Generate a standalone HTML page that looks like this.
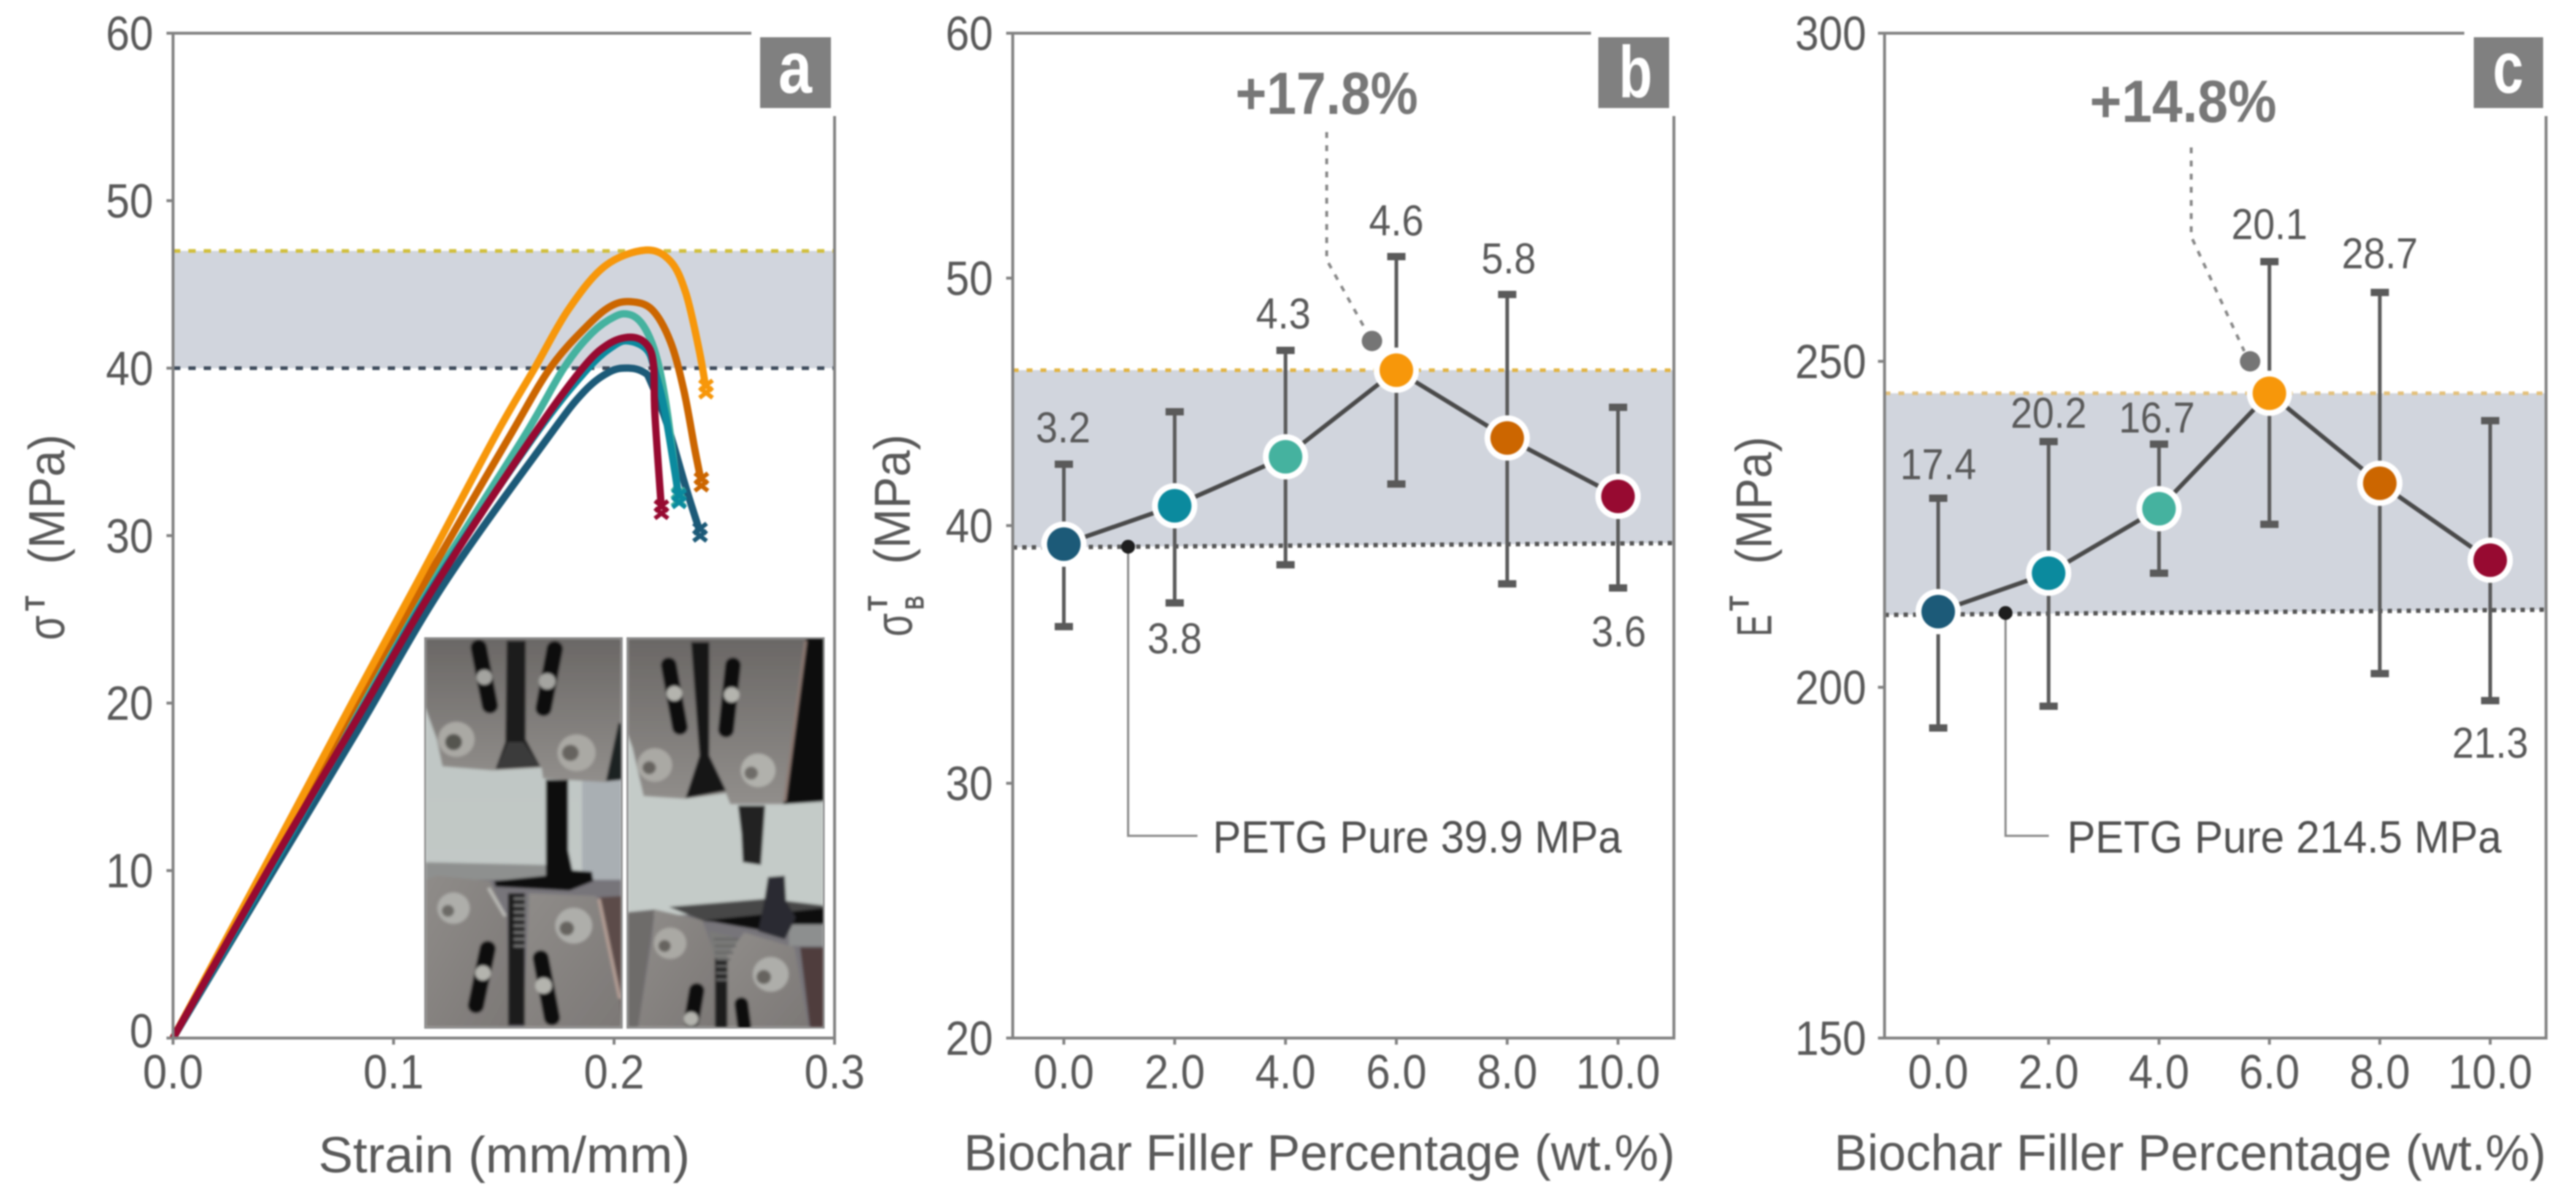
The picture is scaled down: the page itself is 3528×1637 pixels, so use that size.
<!DOCTYPE html>
<html lang="en">
<head>
<meta charset="utf-8">
<title>PETG biochar tensile results</title>
<style>
html,body{margin:0;padding:0;background:#fff;}
#figure{display:block;width:3528px;height:1637px;filter:blur(1px);font-family:"Liberation Sans",sans-serif;}
.frame{stroke:#828282;stroke-width:4;fill:none;}
.title{fill:#595959;font-size:70px;}
</style>
</head>
<body>
<svg id="figure" xmlns="http://www.w3.org/2000/svg" width="3528" height="1637" viewBox="0 0 3528 1637">
<defs>
<linearGradient id="plateGrad" x1="0" y1="0" x2="0" y2="1"><stop offset="0" stop-color="#6a6765"/><stop offset="1" stop-color="#918e8b"/></linearGradient>
<linearGradient id="plateGrad2" x1="0" y1="0" x2="1" y2="1"><stop offset="0" stop-color="#8f8c89"/><stop offset="1" stop-color="#7c7876"/></linearGradient>
<linearGradient id="bgGradLeft" x1="0" y1="0" x2="0" y2="1"><stop offset="0" stop-color="#bfc6c4"/><stop offset="1" stop-color="#c3c9c7"/></linearGradient>
<clipPath id="photoLeftClip"><rect x="58" y="65" width="704" height="1443"/></clipPath>
<clipPath id="photoRightClip"><rect x="782" y="65" width="703" height="1443"/></clipPath>
<filter id="photoBlur" x="-5%" y="-5%" width="110%" height="110%"><feGaussianBlur stdDeviation="5"/></filter>
</defs>
<rect width="3528" height="1637" fill="#fff"/>

<g id="panelA"></g>
<g id="panelB"></g>
<g id="panelC"></g>

<g transform="translate(560 850) scale(.3827 .37)">
  <g clip-path="url(#photoLeftClip)">
    <g filter="url(#photoBlur)">
    <rect x="58" y="65" width="704" height="1443" fill="url(#bgGradLeft)"/>
    <rect x="620" y="590" width="142" height="380" fill="#a9afb3"/>
    <polygon points="58,895 490,905 490,965 58,965" fill="#8e908f"/>
    <polygon points="580,975 762,960 762,1030 580,1030" fill="#8d8c8b"/>
    <rect x="58" y="960" width="704" height="548" fill="#77757a"/>
    <polygon points="58,65 762,65 762,590 700,598 480,585 475,545 300,555 120,540 100,440 58,320" fill="url(#plateGrad)"/>
    <polygon points="750,380 762,380 762,590 705,595" fill="#1d2024"/>
    <line x1="250" y1="100" x2="290" y2="315" stroke="#0c0c0c" stroke-width="58" stroke-linecap="round"/>
    <line x1="522" y1="105" x2="482" y2="325" stroke="#0c0c0c" stroke-width="58" stroke-linecap="round"/>
    <polygon points="350,75 418,75 418,440 470,540 310,550 345,450" fill="#1a1a1a"/>
    <polygon points="355,450 410,450 465,535 315,545" fill="#3b3b3b"/>
    <polygon points="490,590 570,590 570,850 585,925 655,930 660,965 575,1000 310,985 305,965 490,945" fill="#111"/>
    <polygon points="100,945 290,965 350,1100 360,1508 58,1508 58,960" fill="url(#plateGrad2)"/>
    <polygon points="430,1010 670,1020 762,1380 762,1508 410,1508" fill="url(#plateGrad2)"/>
    <polygon points="680,1025 762,1020 762,1508 755,1400" fill="#5b4c4a"/>
    <line x1="680" y1="1030" x2="755" y2="1400" stroke="#b39d94" stroke-width="12"/>
    <rect x="355" y="1010" width="60" height="490" fill="#1c1c1c"/>
    <path d="M375 1030H430M375 1055H430M375 1080H425M375 1105H420M375 1130H420M375 1155H420M375 1180H415M375 1205H415" stroke="#777" stroke-width="9"/>
    <line x1="285" y1="990" x2="345" y2="1095" stroke="#b9b9b5" stroke-width="12"/>
    <line x1="282" y1="1215" x2="240" y2="1425" stroke="#0c0c0c" stroke-width="58" stroke-linecap="round"/>
    <line x1="472" y1="1250" x2="512" y2="1470" stroke="#0c0c0c" stroke-width="58" stroke-linecap="round"/>
    <circle cx="170" cy="440" r="65" fill="#aaa9a4"/><circle cx="160" cy="450" r="30" fill="#55544f"/>
    <circle cx="600" cy="490" r="68" fill="#aaa9a4"/><circle cx="578" cy="490" r="30" fill="#66645f"/>
    <circle cx="270" cy="210" r="28" fill="#a4a4a0"/><circle cx="495" cy="225" r="30" fill="#a4a4a0"/>
    <circle cx="160" cy="1065" r="58" fill="#aeaeaa"/><circle cx="140" cy="1075" r="22" fill="#6c6b66"/>
    <circle cx="590" cy="1130" r="66" fill="#aeaeaa"/><circle cx="565" cy="1140" r="26" fill="#66645f"/>
    <circle cx="265" cy="1305" r="28" fill="#b4b4ae"/><circle cx="482" cy="1352" r="30" fill="#b4b4ae"/>
    </g>
  </g>
  <g clip-path="url(#photoRightClip)">
    <g filter="url(#photoBlur)">
    <rect x="782" y="65" width="703" height="1443" fill="#c4cbc8"/>
    <rect x="782" y="1090" width="703" height="418" fill="#77757a"/>
    <polygon points="782,65 1420,65 1350,680 1150,680 1135,640 990,660 840,650 800,470 782,420" fill="url(#plateGrad)"/>
    <polygon points="1420,65 1485,65 1485,670 1340,680" fill="#0c0c0c"/>
    <line x1="1420" y1="75" x2="1345" y2="670" stroke="#8e7a73" stroke-width="10"/>
    <line x1="930" y1="165" x2="970" y2="395" stroke="#0c0c0c" stroke-width="56" stroke-linecap="round"/>
    <line x1="1160" y1="165" x2="1135" y2="405" stroke="#0c0c0c" stroke-width="56" stroke-linecap="round"/>
    <polygon points="1010,80 1075,80 1075,500 1135,630 990,658 1040,500" fill="#161616"/>
    <circle cx="950" cy="270" r="28" fill="#b4b4ae"/><circle cx="1155" cy="275" r="28" fill="#b4b4ae"/>
    <circle cx="880" cy="535" r="62" fill="#aaa9a4"/><circle cx="860" cy="545" r="24" fill="#66645f"/>
    <circle cx="1250" cy="555" r="62" fill="#b1b1ac"/><circle cx="1225" cy="565" r="24" fill="#6e6c67"/>
    <polygon points="1178,685 1275,685 1260,905 1195,895 1190,790" fill="#222"/>
    <polygon points="930,1060 1285,1030 1485,1055 1485,1125 1380,1125 1060,1115" fill="#474747"/>
    <polygon points="1060,1110 1485,1065 1485,1125 1250,1145" fill="#0f0f0f"/>
    <rect x="1360" y="1125" width="125" height="80" fill="#8d8f8f"/>
    <polygon points="1285,950 1345,945 1350,1040 1385,1100 1345,1180 1250,1150 1270,1050" fill="#2a2c30"/>
    <polygon points="782,1080 880,1070 820,1508 782,1508" fill="#6e6c6b"/>
    <polygon points="880,1070 1050,1110 1100,1250 1100,1508 820,1508 870,1180" fill="url(#plateGrad2)"/>
    <polygon points="1075,1150 1195,1180 1150,1260 1095,1260" fill="#7a7a78"/>
    <polygon points="1200,1155 1380,1210 1430,1508 1140,1508 1140,1240" fill="url(#plateGrad2)"/>
    <polygon points="1400,1210 1485,1210 1485,1508 1435,1508" fill="#4f3e3c"/>
    <rect x="1095" y="1250" width="45" height="258" fill="#1a1a1a"/>
    <path d="M1090 1180H1180M1095 1205H1170M1095 1230H1160M1100 1255H1150M1100 1280H1140M1100 1305H1140M1100 1330H1140" stroke="#666" stroke-width="9"/>
    <line x1="1030" y1="1370" x2="1012" y2="1480" stroke="#0c0c0c" stroke-width="55" stroke-linecap="round"/>
    <line x1="1190" y1="1420" x2="1200" y2="1500" stroke="#0c0c0c" stroke-width="50" stroke-linecap="round"/>
    <circle cx="1010" cy="1475" r="26" fill="#b4b4ae"/>
    <circle cx="935" cy="1195" r="58" fill="#aaa9a4"/><circle cx="915" cy="1205" r="22" fill="#66645f"/>
    <circle cx="1295" cy="1310" r="64" fill="#aeaeaa"/><circle cx="1270" cy="1320" r="26" fill="#66645f"/>
    </g>
  </g>
  <rect x="58" y="65" width="704" height="1443" fill="none" stroke="#8a8a8a" stroke-width="6"/>
  <rect x="782" y="65" width="703" height="1443" fill="none" stroke="#8a8a8a" stroke-width="6"/>
</g>

<!-- Panel A static frame & labels -->
<path class="frame" d="M1029 45.5H237V1422H1143V159"/>
<rect x="1041" y="51" width="97" height="97" fill="#808080"/>
<text x="1089" y="127" text-anchor="middle" font-size="100" font-weight="bold" fill="#fff" textLength="46" lengthAdjust="spacingAndGlyphs">a</text>
<text class="title" x="436" y="1606" textLength="509" lengthAdjust="spacingAndGlyphs">Strain (mm/mm)</text>
<g fill="#595959">
  <text transform="translate(88 877) rotate(-90)" font-size="72" textLength="34" lengthAdjust="spacingAndGlyphs">σ</text>
  <text transform="translate(61 837) rotate(-90)" font-size="38" font-weight="bold" textLength="21" lengthAdjust="spacingAndGlyphs">T</text>
  <text transform="translate(88 773) rotate(-90)" font-size="70" textLength="178" lengthAdjust="spacingAndGlyphs">(MPa)</text>
</g>

<!-- Panel B static frame & labels -->
<path class="frame" d="M2179 45.5H1387V1422H2292.5V159"/>
<rect x="2189" y="51" width="97" height="97" fill="#808080"/>
<text x="2240" y="133" text-anchor="middle" font-size="100" font-weight="bold" fill="#fff" textLength="46" lengthAdjust="spacingAndGlyphs">b</text>
<text class="title" x="1320" y="1603" textLength="974" lengthAdjust="spacingAndGlyphs">Biochar Filler Percentage (wt.%)</text>
<g fill="#595959">
  <text transform="translate(1249 872) rotate(-90)" font-size="72" textLength="32" lengthAdjust="spacingAndGlyphs">σ</text>
  <text transform="translate(1215 837) rotate(-90)" font-size="38" font-weight="bold" textLength="21" lengthAdjust="spacingAndGlyphs">T</text>
  <text transform="translate(1265 835) rotate(-90)" font-size="36" font-weight="bold" textLength="19" lengthAdjust="spacingAndGlyphs">B</text>
  <text transform="translate(1246 773) rotate(-90)" font-size="70" textLength="178" lengthAdjust="spacingAndGlyphs">(MPa)</text>
</g>
<text x="1692" y="156" font-size="82" font-weight="bold" fill="#777" textLength="250" lengthAdjust="spacingAndGlyphs">+17.8%</text>
<text x="1661" y="1168" font-size="62" fill="#505050" textLength="560" lengthAdjust="spacingAndGlyphs">PETG Pure 39.9 MPa</text>

<!-- Panel C static frame & labels -->
<path class="frame" d="M3375 45.5H2581V1422H3487V159"/>
<rect x="3388" y="51" width="95" height="97" fill="#808080"/>
<text x="3435" y="127" text-anchor="middle" font-size="100" font-weight="bold" fill="#fff" textLength="42" lengthAdjust="spacingAndGlyphs">c</text>
<text class="title" x="2512" y="1603" textLength="975" lengthAdjust="spacingAndGlyphs">Biochar Filler Percentage (wt.%)</text>
<g fill="#595959">
  <text transform="translate(2426 872) rotate(-90)" font-size="68" textLength="30" lengthAdjust="spacingAndGlyphs">E</text>
  <text transform="translate(2395 837) rotate(-90)" font-size="38" font-weight="bold" textLength="21" lengthAdjust="spacingAndGlyphs">T</text>
  <text transform="translate(2426 773) rotate(-90)" font-size="70" textLength="175" lengthAdjust="spacingAndGlyphs">(MPa)</text>
</g>
<text x="2862" y="167" font-size="82" font-weight="bold" fill="#777" textLength="256" lengthAdjust="spacingAndGlyphs">+14.8%</text>
<text x="2831" y="1168" font-size="62" fill="#505050" textLength="595" lengthAdjust="spacingAndGlyphs">PETG Pure 214.5 MPa</text>

<script>
// ---------- Panel a data: stress-strain curves by biochar loading ----------
const strain0 = [0, .0455, .0838, .1228, .1699, .1864, .1983, .2071, .2136, .2166, .2242, .2325, .239];
const stress0 = [0, 10, 18.4, 27.1, 35.83, 38.6, 39.8, 40, 39.75, 39.2, 36.6, 32.9, 30.2];
const strain2 = [0, .044, .086, .1185, .1632, .1876, .2006, .2076, .2149, .2182, .2232, .2295];
const stress2 = [0, 10, 19.7, 27.1, 35.83, 39.9, 41.4, 41.6, 41.1, 40, 37.3, 32.2];
const strain4 = [0, .0425, .085, .1169, .1588, .1772, .19, .2006, .2071, .2124, .2172, .2207, .2242, .2292];
const stress4 = [0, 10, 20, 27.1, 35.83, 40, 42.1, 43.1, 43.2, 42.7, 41.5, 39.9, 37.3, 32.3];
const strain6 = [0, .0407, .0805, .1103, .1456, .164, .1793, .1959, .2142, .2255, .2325, .2384, .2417];
const stress6 = [0, 10, 19.85, 27.1, 35.83, 40, 43.5, 46.1, 47.05, 46.4, 44.5, 41.2, 38.75];
const strain8 = [0, .042, .082, .1136, .1522, .171, .1876, .1985, .2075, .2172, .2255, .2316, .2367, .2396];
const stress8 = [0, 10, 19.8, 27.1, 35.83, 40, 42.5, 43.7, 43.97, 43.5, 41.6, 38.7, 35.1, 33.2];
const strain10 = [0, .043, .0845, .1192, .1626, .1851, .197, .2076, .2149, .2179, .2185, .2215];
const stress10 = [0, 10, 19.3, 27.1, 35.83, 39.9, 41.4, 41.85, 41.4, 40.2, 37.3, 31.55];
const bandA = [40, 47];
const yTicksA = [0, 10, 20, 30, 40, 50, 60];
const xTicksA = ['0.0', '0.1', '0.2', '0.3'];

// ---------- Panels b & c data ----------
const fillerLevels = [0, 2, 4, 6, 8, 10];
const fillerTickLabels = ['0.0', '2.0', '4.0', '6.0', '8.0', '10.0'];
const meanB = [39.28, 40.8, 42.78, 46.28, 43.54, 41.18];
const errorB = [3.2, 3.8, 4.3, 4.6, 5.8, 3.6];
const printedB = ['3.2', '3.8', '4.3', '4.6', '5.8', '3.6'];
const yTicksB = [20, 30, 40, 50, 60];
const pureLineB = [39.15, 39.32];
const pureValueB = 39.18;
const calloutB = 47.46;
const meanC = [211.6, 217.5, 227.4, 245.1, 231.3, 219.5];
const errorC = [17.4, 20.2, 9.9, 20.1, 29.2, 21.4];
const printedC = ['17.4', '20.2', '16.7', '20.1', '28.7', '21.3'];
const yTicksC = [150, 200, 250, 300];
const pureLineC = [211.1, 211.9];
const pureValueC = 211.4;
const calloutC = 250;

// ---------- Helpers ----------
const NS = 'http://www.w3.org/2000/svg';
const GREY_TEXT = '#595959';
const GREY_AXIS = '#828282';
const seriesColors = ['#1c5a78', '#0b8a9e', '#45b29f', '#f7970a', '#cc6600', '#970a31'];

function el(tag, attrs, parent) {
  const node = document.createElementNS(NS, tag);
  for (const key in attrs) node.setAttribute(key, attrs[key]);
  parent.appendChild(node);
  return node;
}
function polyScale(domain, range) {
  return function (v) {
    let i = 0;
    while (i < domain.length - 2 && v > domain[i + 1]) i++;
    return range[i] + (v - domain[i]) * (range[i + 1] - range[i]) / (domain[i + 1] - domain[i]);
  };
}
function numLen(str, size) {
  let w = 0;
  for (const ch of str) w += ch === '.' ? 0.29 : 0.524;
  return w * size;
}
function drawNumber(parent, x, y, str, size, anchor) {
  const t = el('text', {x: x, y: y, 'font-size': size * 1.06, fill: GREY_TEXT, 'text-anchor': anchor, textLength: numLen(str, size), lengthAdjust: 'spacingAndGlyphs'}, parent);
  t.textContent = str;
  return t;
}
function smoothPath(pts) {
  let d = 'M' + pts[0][0] + ' ' + pts[0][1];
  for (let i = 0; i < pts.length - 1; i++) {
    const p0 = pts[Math.max(0, i - 1)], p1 = pts[i], p2 = pts[i + 1], p3 = pts[Math.min(pts.length - 1, i + 2)];
    const c1x = p1[0] + (p2[0] - p0[0]) / 6, c1y = p1[1] + (p2[1] - p0[1]) / 6;
    const c2x = p2[0] - (p3[0] - p1[0]) / 6, c2y = p2[1] - (p3[1] - p1[1]) / 6;
    d += 'C' + c1x + ' ' + c1y + ' ' + c2x + ' ' + c2y + ' ' + p2[0] + ' ' + p2[1];
  }
  return d;
}
function drawYAxis(parent, ticks, yScale, axisX, labelRight, zeroNudge) {
  ticks.forEach(function (v) {
    const y = yScale(v);
    const tick = el('line', {x1: axisX - 9, x2: axisX, y1: y, y2: y, stroke: GREY_AXIS, 'stroke-width': 4}, parent);
    
    
    const label = drawNumber(parent, labelRight, y + (v === 0 && zeroNudge ? 13 : 23), String(v), 62, 'end');
    
    
  });
}
function drawXTick(parent, x, str) {
  const tick = el('line', {x1: x, x2: x, y1: 1422, y2: 1431, stroke: GREY_AXIS, 'stroke-width': 4}, parent);
  
  
  const label = drawNumber(parent, x, 1491, str, 62, 'middle');
  
  
}

// ---------- Panel a ----------
(function () {
  const g = document.getElementById('panelA');
  const xA = polyScale([0, 0.3], [237, 1143]);
  const yA = polyScale([0, 60], [1422, 45.5]);
  const band = el('rect', {x: xA(0), width: xA(0.3) - xA(0), y: yA(bandA[1]), height: yA(bandA[0]) - yA(bandA[1]), fill: '#d1d5dd'}, g);
  
  
  const topLine = el('line', {x1: xA(0), x2: xA(0.3), y1: yA(bandA[1]), y2: yA(bandA[1]), stroke: '#d2bf3c', 'stroke-width': 5, 'stroke-dasharray': '10 11'}, g);
  
  
  const lowLine = el('line', {x1: xA(0), x2: xA(0.3), y1: yA(bandA[0]), y2: yA(bandA[0]), stroke: '#3c4a5a', 'stroke-width': 5, 'stroke-dasharray': '10 11'}, g);
  
  
  drawYAxis(g, yTicksA, yA, 237, 210, true);
  xTicksA.forEach(function (s) { drawXTick(g, xA(parseFloat(s)), s); });

  const order = [
    [strain0, stress0, 0], [strain4, stress4, 2], [strain2, stress2, 1],
    [strain8, stress8, 4], [strain6, stress6, 3], [strain10, stress10, 5]
  ];
  order.forEach(function (s) {
    const pts = s[0].map(function (e, i) { return [xA(e), yA(s[1][i])]; });
    const col = seriesColors[s[2]];
    const curve = el('path', {d: smoothPath(pts), fill: 'none', stroke: col, 'stroke-width': 10, 'stroke-linejoin': 'round'}, g);
    
    
    const end = pts[pts.length - 1];
    [-5, 5].forEach(function (dy) {
      const cross = el('path', {d: 'M' + (end[0] - 9) + ' ' + (end[1] + dy - 7) + 'L' + (end[0] + 9) + ' ' + (end[1] + dy + 7) + 'M' + (end[0] + 9) + ' ' + (end[1] + dy - 7) + 'L' + (end[0] - 9) + ' ' + (end[1] + dy + 7), stroke: col, 'stroke-width': 6, fill: 'none'}, g);
      
      
    });
  });
})();

// ---------- Panels b & c ----------
function drawSummary(g, cfg) {
  const x = function (v) { return cfg.x0 + v * cfg.xStep; };
  const y = cfg.y;
  const left = cfg.left, right = cfg.right;
  const top = y(cfg.mean[3]);
  const band = el('polygon', {points: left + ',' + top + ' ' + right + ',' + top + ' ' + right + ',' + y(cfg.pure[1]) + ' ' + left + ',' + y(cfg.pure[0]), fill: '#d1d5dd'}, g);
  
  
  const upper = el('line', {x1: left, x2: right, y1: top, y2: top, stroke: cfg.topColor, 'stroke-width': 5, 'stroke-dasharray': '8 11'}, g);
  
  
  const lower = el('line', {x1: left, x2: right, y1: y(cfg.pure[0]), y2: y(cfg.pure[1]), stroke: '#555', 'stroke-width': 6, 'stroke-dasharray': '6 7'}, g);
  
  

  drawYAxis(g, cfg.ticks, y, left, cfg.labelRight, false);
  fillerLevels.forEach(function (v, i) { drawXTick(g, x(v), fillerTickLabels[i]); });

  // error bars
  fillerLevels.forEach(function (v, i) {
    const cx = x(v), hi = y(cfg.mean[i] + cfg.err[i]), lo = y(cfg.mean[i] - cfg.err[i]);
    const bar = el('line', {x1: cx, x2: cx, y1: hi, y2: lo, stroke: '#5a5a5a', 'stroke-width': 5}, g);
    
    
    [hi, lo].forEach(function (cy) {
      const cap = el('rect', {x: cx - 12.5, y: cy - 5, width: 25, height: 10, fill: '#5a5a5a'}, g);
      
      
    });
    const below = cfg.labelOffset[i] < 0;
    const ly = below ? lo - cfg.labelOffset[i] : hi - cfg.labelOffset[i];
    const label = drawNumber(g, cx + cfg.labelShift[i], ly, cfg.printed[i], 56, 'middle');
    
    
  });

  // connecting line
  const line = el('polyline', {points: fillerLevels.map(function (v, i) { return x(v) + ',' + y(cfg.mean[i]); }).join(' '), fill: 'none', stroke: '#4a4a4a', 'stroke-width': 6}, g);
  
  

  // callout
  const calloutPoint = [x(cfg.calloutX), y(cfg.callout)];
  const dash = el('path', {d: 'M' + cfg.calloutStart[0] + ' ' + cfg.calloutStart[1] + 'V' + cfg.calloutStart[2] + 'L' + (calloutPoint[0] - 8) + ' ' + (calloutPoint[1] - 14), fill: 'none', stroke: '#888', 'stroke-width': 4, 'stroke-dasharray': '8 10'}, g);
  
  
  const dot = el('circle', {cx: calloutPoint[0], cy: calloutPoint[1], r: 14, fill: '#757575'}, g);
  
  

  // pure PETG leader
  const px = x(cfg.pureX), py = y(cfg.pureValue);
  const leader = el('path', {d: 'M' + px + ' ' + py + 'V1145H' + cfg.leaderEnd, fill: 'none', stroke: '#8a8a8a', 'stroke-width': 3}, g);
  
  
  const pdot = el('circle', {cx: px, cy: py, r: 9.5, fill: '#1e1e1e'}, g);
  
  

  // markers
  fillerLevels.forEach(function (v, i) {
    const ring = el('circle', {cx: x(v), cy: y(cfg.mean[i]), r: 31, fill: '#fff'}, g);
    
    
    const dotM = el('circle', {cx: x(v), cy: y(cfg.mean[i]), r: 23, fill: seriesColors[i]}, g);
    
    
  });
}

drawSummary(document.getElementById('panelB'), {
  x0: 1457, xStep: 75.9, left: 1387, right: 2292.5, labelRight: 1360,
  y: polyScale([20, 30, 40, 50, 60], [1422, 1073, 720, 381, 45.5]),
  mean: meanB, err: errorB, printed: printedB, ticks: yTicksB, pure: pureLineB,
  pureX: 1.16, pureValue: pureValueB, leaderEnd: 1640,
  callout: calloutB, calloutX: 5.56, calloutStart: [1817, 181, 356],
  topColor: '#e3b443',
  labelOffset: [30, -69, 30, 29, 29, -80], labelShift: [-1, 0, -3, 0, 2, 1]
});
drawSummary(document.getElementById('panelC'), {
  x0: 2654.5, xStep: 75.6, left: 2581, right: 3487, labelRight: 2556,
  y: polyScale([150, 200, 250, 300], [1422, 941.5, 495, 45.5]),
  mean: meanC, err: errorC, printed: printedC, ticks: yTicksC, pure: pureLineC,
  pureX: 1.22, pureValue: pureValueC, leaderEnd: 2806,
  callout: calloutC, calloutX: 5.65, calloutStart: [3001, 202, 324],
  topColor: '#e4c07a',
  labelOffset: [26, 19, 16, 31, 33, -78], labelShift: [0, 0, -3, 0, 0, 0]
});
</script>
</svg>
</body>
</html>
